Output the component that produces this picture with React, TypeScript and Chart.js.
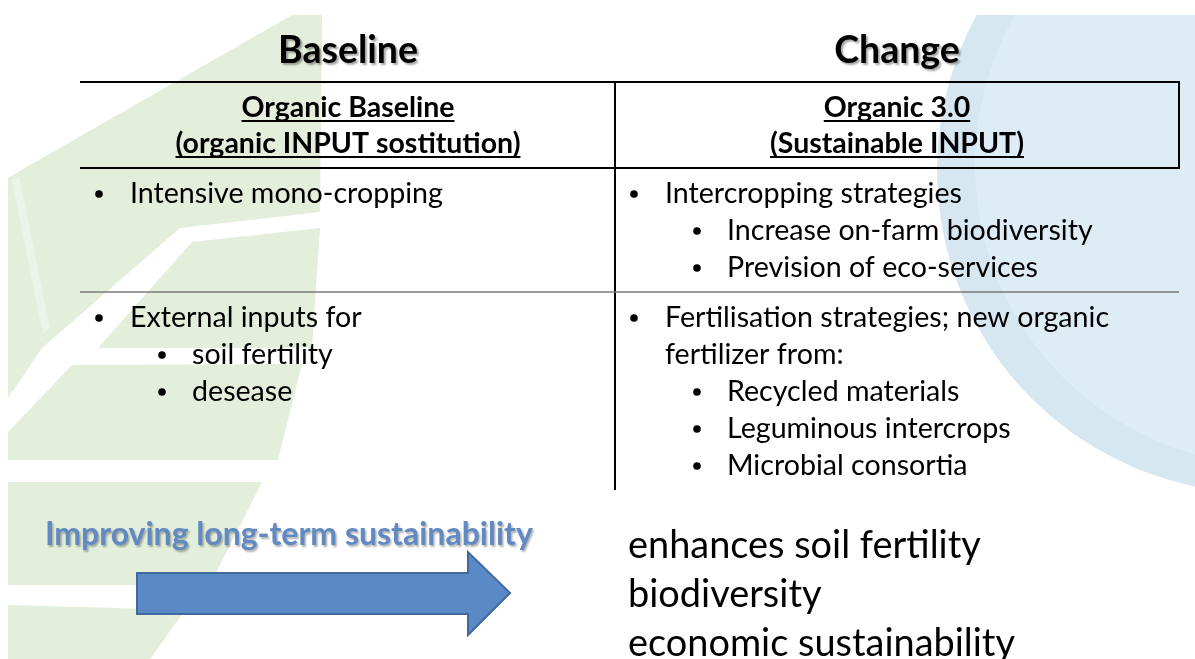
import React, { useEffect, useRef } from "react";
import { Chart, registerables } from "chart.js";

Chart.register(...registerables);

// ---------- content ----------
const columnTitles = ["Baseline", "Change"];
const leftHeader = ["Organic Baseline", "(organic INPUT sostitution)"];
const rightHeader = ["Organic 3.0", "(Sustainable INPUT)"];
// level 1 = bullet, level 2 = sub bullet, level 0 = continuation line
const leftRow1Levels = [1];
const leftRow1Texts = ["Intensive mono-cropping"];
const rightRow1Levels = [1, 2, 2];
const rightRow1Texts = ["Intercropping strategies", "Increase on-farm biodiversity", "Prevision of eco-services"];
const leftRow2Levels = [1, 2, 2];
const leftRow2Texts = ["External inputs for", "soil fertility", "desease"];
const rightRow2Levels = [1, 0, 2, 2, 2];
const rightRow2Texts = [
  "Fertilisation strategies; new organic",
  "fertilizer from:",
  "Recycled materials",
  "Leguminous intercrops",
  "Microbial consortia",
];
const arrowLabel = "Improving long-term sustainability";
const outcomes = ["enhances soil fertility", "biodiversity", "economic sustainability"];

const FAMILY = "Lato, 'Open Sans', sans-serif";

function fitSize(ctx: CanvasRenderingContext2D, text: string, weight: string, target: number) {
  ctx.font = `${weight} 100px ${FAMILY}`;
  const w = ctx.measureText(text).width;
  return (100 * target) / w;
}

const slidePlugin = {
  id: "slide",
  beforeDraw(chart: any) {
    const ctx: CanvasRenderingContext2D = chart.ctx;
    const xs = chart.scales.x;
    const ys = chart.scales.y;
    const X = (v: number) => xs.getPixelForValue(v);
    const Y = (v: number) => ys.getPixelForValue(v);
    ctx.save();
    ctx.fillStyle = "#ffffff";
    ctx.fillRect(0, 0, chart.width, chart.height);

    // background decor, clipped to slide picture area
    ctx.save();
    ctx.beginPath();
    ctx.rect(X(8), Y(15), X(1195) - X(8), Y(659) - Y(15));
    ctx.clip();
    // blue disc
    ctx.fillStyle = "#d6e7f1";
    ctx.beginPath();
    ctx.arc(X(1260), Y(170), 323, 0, Math.PI * 2);
    ctx.fill();
    ctx.fillStyle = "#deedf5";
    ctx.beginPath();
    ctx.arc(X(1275), Y(165), 300, 0, Math.PI * 2);
    ctx.fill();
    // green leaves
    const poly = (pts: number[][], color: string) => {
      ctx.fillStyle = color;
      ctx.beginPath();
      pts.forEach(([a, b], i) => (i ? ctx.lineTo(X(a), Y(b)) : ctx.moveTo(X(a), Y(b))));
      ctx.closePath();
      ctx.fill();
    };
    const leaves: number[][][] = [
      [[8, 178], [30, 165], [292, 15], [322, 15], [320, 212], [180, 228], [42, 348], [8, 398]],
      [[192, 242], [320, 228], [312, 348], [98, 348]],
      [[8, 432], [72, 365], [302, 364], [278, 460], [8, 460]],
      [[8, 482], [262, 482], [210, 585], [8, 585]],
      [[8, 605], [185, 610], [150, 659], [8, 659]],
    ];
    for (const p of leaves) poly(p, "#e3eedb");
    // faint vein
    poly([[12, 180], [19, 176], [50, 328], [43, 334]], "#ecf4e7");
    ctx.restore();

    // sizes fitted to reference text widths
    const titleSize = fitSize(ctx, columnTitles[0], "bold", 140);
    const headSize = fitSize(ctx, leftHeader[1], "bold", 345);
    const bodySize = fitSize(ctx, leftRow1Texts[0], "normal", 313);
    const blueSize = fitSize(ctx, arrowLabel, "bold", 488);
    const bigSize = fitSize(ctx, outcomes[0], "normal", 353);

    // titles with shadow
    ctx.textBaseline = "alphabetic";
    ctx.textAlign = "center";
    ctx.font = `bold ${titleSize}px ${FAMILY}`;
    ctx.save();
    ctx.shadowColor = "rgba(0,0,0,0.35)";
    ctx.shadowOffsetX = 2;
    ctx.shadowOffsetY = 2;
    ctx.shadowBlur = 2;
    ctx.fillStyle = "#000";
    ctx.fillText(columnTitles[0], X(348), Y(63));
    ctx.fillText(columnTitles[1], X(897), Y(63));
    ctx.restore();

    // table lines
    ctx.strokeStyle = "#000";
    ctx.lineWidth = 2;
    const line = (x1: number, y1: number, x2: number, y2: number) => {
      ctx.beginPath();
      ctx.moveTo(X(x1), Y(y1));
      ctx.lineTo(X(x2), Y(y2));
      ctx.stroke();
    };
    line(80, 82, 1180, 82);
    line(615, 82, 615, 490);
    line(1179, 82, 1179, 168);
    line(80, 168, 1180, 168);
    ctx.strokeStyle = "#7a7a7a";
    ctx.lineWidth = 1.5;
    line(80, 292, 1179, 292);

    // headers (bold underlined)
    ctx.font = `bold ${headSize}px ${FAMILY}`;
    ctx.fillStyle = "#000";
    const underlined = (t: string, cx: number, by: number) => {
      ctx.textAlign = "center";
      ctx.fillText(t, X(cx), Y(by));
      const w = ctx.measureText(t).width;
      ctx.fillRect(X(cx) - w / 2, Y(by + 3), w, 2);
    };
    underlined(leftHeader[0], 348, 117);
    underlined(leftHeader[1], 348, 153);
    underlined(rightHeader[0], 897, 117);
    underlined(rightHeader[1], 897, 153);

    // bullets
    ctx.textAlign = "left";
    const drawList = (levels: number[], texts: string[], colX: number, startY: number) => {
      texts.forEach((t, i) => {
        const lv = levels[i];
        const by = startY + i * 37;
        const bx = lv === 2 ? colX + 63 : colX;
        const tx = lv === 2 ? colX + 97 : colX + 35;
        ctx.font = `${bodySize}px ${FAMILY}`;
        if (lv !== 0) {
          ctx.beginPath();
          ctx.arc(X(bx + 4), Y(by - 9), 3.8, 0, Math.PI * 2);
          ctx.fill();
        }
        ctx.fillText(t, X(tx), Y(by));
      });
    };
    ctx.fillStyle = "#000";
    drawList(leftRow1Levels, leftRow1Texts, 95, 203);
    drawList(rightRow1Levels, rightRow1Texts, 630, 203);
    drawList(leftRow2Levels, leftRow2Texts, 95, 327);
    drawList(rightRow2Levels, rightRow2Texts, 630, 327);

    // blue label
    ctx.save();
    ctx.font = `bold ${blueSize}px ${FAMILY}`;
    ctx.shadowColor = "rgba(0,0,0,0.3)";
    ctx.shadowOffsetX = 1.5;
    ctx.shadowOffsetY = 1.5;
    ctx.shadowBlur = 2;
    ctx.fillStyle = "#6189c2";
    ctx.fillText(arrowLabel, X(45), Y(545));
    ctx.restore();

    // arrow
    const arrow = [[137, 573], [468, 573], [468, 552], [510, 593], [468, 635], [468, 614], [137, 614]];
    ctx.beginPath();
    arrow.forEach(([a, b], i) => (i ? ctx.lineTo(X(a), Y(b)) : ctx.moveTo(X(a), Y(b))));
    ctx.closePath();
    ctx.fillStyle = "#5a8ac5";
    ctx.fill();
    ctx.strokeStyle = "#41699d";
    ctx.lineWidth = 2;
    ctx.stroke();

    // outcomes
    ctx.font = `${bigSize}px ${FAMILY}`;
    ctx.fillStyle = "#000";
    outcomes.forEach((t, i) => ctx.fillText(t, X(628), Y(558 + i * 49)));
    ctx.restore();
  },
};

export default function App() {
  const ref = useRef<HTMLCanvasElement | null>(null);
  useEffect(() => {
    document.body.style.margin = "0";
    document.body.style.overflow = "hidden";
    const canvas = ref.current!;
    const chart = new Chart(canvas, {
      type: "scatter",
      data: { datasets: [{ data: [], pointRadius: 0 }] },
      options: {
        responsive: false,
        animation: false,
        events: [],
        layout: { padding: 0 },
        plugins: { legend: { display: false }, tooltip: { enabled: false } },
        scales: {
          x: { type: "linear", min: 0, max: 1195, display: false },
          y: { type: "linear", min: 0, max: 659, reverse: true, display: false },
        },
      },
      plugins: [slidePlugin],
    });
    return () => chart.destroy();
  }, []);
  return <canvas ref={ref} width={1195} height={659} style={{ display: "block" }} />;
}
